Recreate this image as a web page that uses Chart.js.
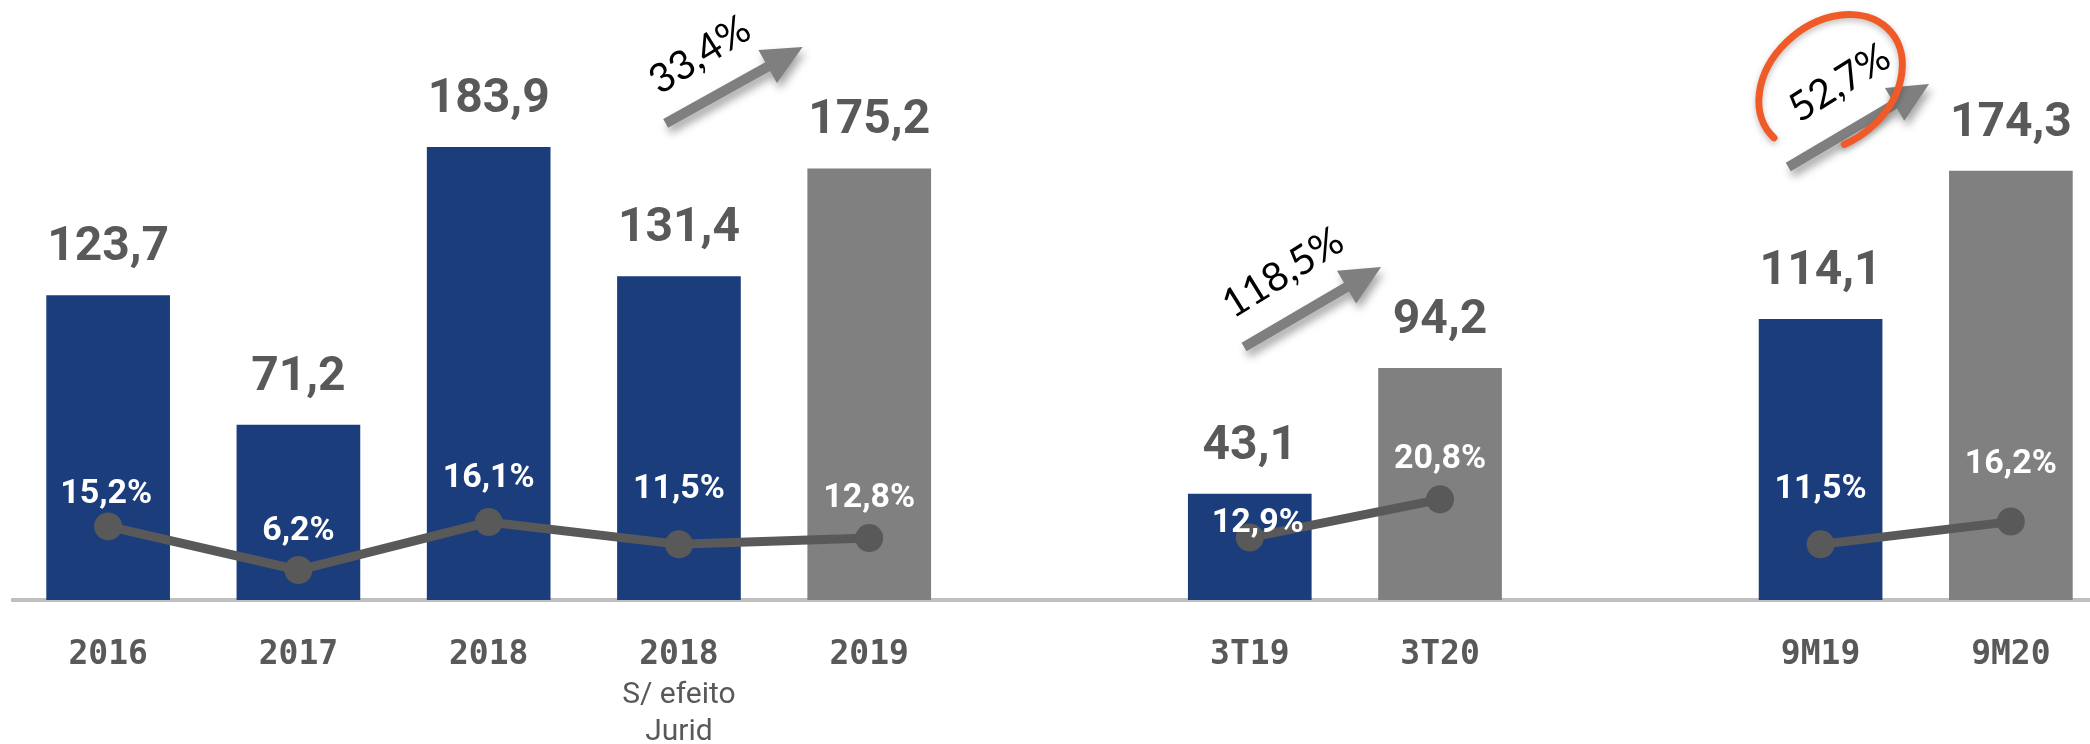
<!DOCTYPE html>
<html>
<head>
<meta charset="utf-8">
<script src="https://cdn.jsdelivr.net/npm/chart.js@4.4.1/dist/chart.umd.min.js"></script>
<style>
    html, body { margin: 0; padding: 0; background: #fff; overflow: hidden; }
    #wrap { width: 2106px; height: 744px; }
</style>
</head>
<body>
<div id="wrap"><canvas id="lucroChart" width="2106" height="744"></canvas></div>
<script>
// categorias (as vazias separam os blocos)
var categorias = ["2016", "2017", "2018", "2018", "2019", "", "3T19", "3T20", "", "9M19", "9M20"];
var subtitulos = ["", "", "", "S/ efeito|Jurid", "", "", "", "", "", "", ""];
var lucro = [123.7, 71.2, 183.9, 131.4, 175.2, null, 43.1, 94.2, null, 114.1, 174.3];
var margem = [15.2, 6.2, 16.1, 11.5, 12.8, null, 12.9, 20.8, null, 11.5, 16.2];
var periodoAtual = [false, false, false, false, true, false, false, true, false, false, true];
var variacoes = ["33,4%", "118,5%", "52,7%"];

const cores = {
    azul: "#1B3D7C",
    cinza: "#808080",
    linha: "#595959",
    texto: "#595959",
    eixo: "#BFBFBF",
    laranja: "#F05A28",
};

function fmt(v) {
    return v.toFixed(1).replace(".", ",");
}

/* rotulos dos valores, margens e subtitulos do eixo */
const rotulosPlugin = {
    id: "rotulos",
    afterDatasetsDraw(chart, args, opts) {
        const ctx = chart.ctx;
        const barMeta = chart.getDatasetMeta(0);
        const lineMeta = chart.getDatasetMeta(1);
        ctx.save();
        ctx.textAlign = "center";
        ctx.textBaseline = "alphabetic";
        ctx.font = "bold 48px Roboto";
        ctx.fillStyle = cores.texto;
        lucro.forEach(function (v, i) {
            if (v === null) return;
            const el = barMeta.data[i];
            ctx.fillText(fmt(v), el.x, el.y - 35);
        });
        ctx.font = "bold 34px Roboto";
        ctx.fillStyle = "#FFFFFF";
        margem.forEach(function (v, i) {
            if (v === null) return;
            const pt = lineMeta.data[i];
            ctx.fillText(fmt(v) + "%", pt.x + (opts.desloc[i] || 0), pt.y - opts.elevar[i]);
        });
        // subtitulos abaixo dos anos
        const xs = chart.scales.x;
        ctx.font = "30px Roboto";
        ctx.fillStyle = cores.texto;
        subtitulos.forEach(function (s, i) {
            if (!s) return;
            s.split("|").forEach(function (ln, k) {
                ctx.fillText(ln, xs.getPixelForValue(i), chart.chartArea.bottom + 103 + k * 37);
            });
        });
        ctx.restore();
    },
};

function desenhaSeta(ctx, x1, y1, x2, y2) {
    const ang = Math.atan2(y2 - y1, x2 - x1);
    const len = Math.hypot(x2 - x1, y2 - y1);
    ctx.save();
    ctx.translate(x1, y1);
    ctx.rotate(ang);
    ctx.shadowColor = "rgba(0,0,0,0.35)";
    ctx.shadowBlur = 9;
    ctx.shadowOffsetX = 3;
    ctx.shadowOffsetY = 6;
    ctx.fillStyle = "#7F7F7F";
    ctx.beginPath();
    ctx.moveTo(0, -5);
    ctx.lineTo(len - 40, -5);
    ctx.lineTo(len - 40, -19);
    ctx.lineTo(len, 0);
    ctx.lineTo(len - 40, 19);
    ctx.lineTo(len - 40, 5);
    ctx.lineTo(0, 5);
    ctx.closePath();
    ctx.fill();
    ctx.restore();
}

/* setas de variacao e destaque */
const setasPlugin = {
    id: "setas",
    afterDraw(chart, args, opts) {
        const ctx = chart.ctx;
        const xs = chart.scales.x;
        const ys = chart.scales.y;
        opts.posicoes.forEach(function (p, i) {
            desenhaSeta(ctx,
                xs.getPixelForValue(p.de[0]), ys.getPixelForValue(p.de[1]),
                xs.getPixelForValue(p.para[0]), ys.getPixelForValue(p.para[1]));
            const tx = xs.getPixelForValue(p.texto[0]);
            const ty = ys.getPixelForValue(p.texto[1]);
            ctx.save();
            ctx.translate(tx, ty);
            ctx.rotate(-32 * Math.PI / 180);
            ctx.font = "40px Lato";
            ctx.fillStyle = "#000000";
            ctx.textAlign = "center";
            ctx.textBaseline = "middle";
            ctx.fillText(variacoes[i], 0, 0);
            ctx.restore();
            if (p.circulo) {
                ctx.save();
                ctx.strokeStyle = cores.laranja;
                ctx.lineWidth = 7;
                ctx.lineCap = "round";
                ctx.shadowColor = "rgba(0,0,0,0.25)";
                ctx.shadowBlur = 6;
                ctx.shadowOffsetY = 3;
                ctx.beginPath();
                ctx.ellipse(tx - 9, ty, 79, 60, -40 * Math.PI / 180, 0.97 * Math.PI, 2.62 * Math.PI);
                ctx.stroke();
                ctx.restore();
            }
        });
    },
};

var lucroChart = new Chart(document.getElementById("lucroChart"), {
    data: {
        labels: categorias,
        datasets: [
            {
                type: "bar",
                data: lucro,
                backgroundColor: periodoAtual.map(function (a) { return a ? cores.cinza : cores.azul; }),
                barPercentage: 0.65,
                categoryPercentage: 1,
                yAxisID: "y",
                order: 1,
            },
            {
                type: "line",
                data: margem,
                borderColor: cores.linha,
                backgroundColor: cores.linha,
                borderWidth: 9,
                pointRadius: 14,
                pointHoverRadius: 14,
                pointBackgroundColor: cores.linha,
                pointBorderWidth: 0,
                spanGaps: false,
                clip: false,
                yAxisID: "y2",
                order: 0,
            },
        ],
    },
    options: {
        responsive: false,
        animation: false,
        devicePixelRatio: 1,
        layout: {
            autoPadding: false,
            padding: { left: 13, right: 0, top: 0, bottom: 0 },
        },
        plugins: {
            legend: { display: false },
            tooltip: { enabled: false },
            rotulos: {
                elevar: [23, 30, 35, 46, 31, 0, 6, 31, 0, 46, 49],
                desloc: [-2, 0, 0, 0, 0, 0, 8, 0, 0, 0, 0],
            },
            setas: {
                posicoes: [
                    { de: [2.93, 193.5], para: [3.65, 224.5], texto: [3.11, 221.3] },
                    { de: [5.97, 102.7], para: [6.69, 135.2], texto: [6.175, 132.8] },
                    { de: [8.83, 175.8], para: [9.57, 209.5], texto: [9.1, 209.9], circulo: true },
                ],
            },
        },
        scales: {
            x: {
                grid: { display: false, drawTicks: false },
                border: { display: true, color: cores.eixo, width: 4 },
                ticks: {
                    color: cores.texto,
                    font: { family: "DejaVu Sans Mono", weight: "bold", size: 33 },
                    padding: 36,
                    autoSkip: false,
                    maxRotation: 0,
                },
                afterFit: function (scale) {
                    scale.height = 144;
                },
            },
            y: {
                display: false,
                min: 0,
                max: 243.6,
            },
            y2: {
                display: false,
                min: 0,
                max: 124,
            },
        },
    },
    plugins: [rotulosPlugin, setasPlugin],
});
</script>
</body>
</html>
